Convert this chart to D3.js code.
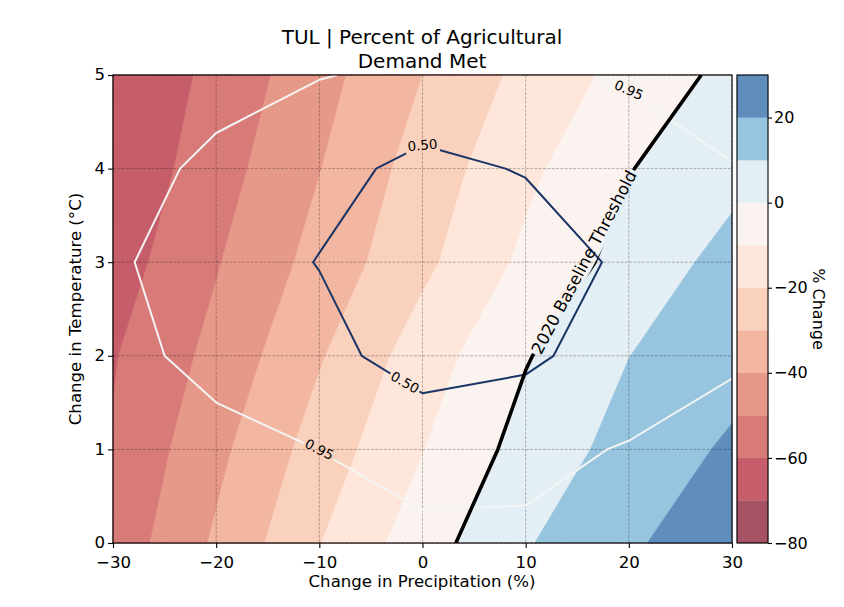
<!DOCTYPE html>
<html>
<head>
<meta charset="utf-8">
<script src="https://cdn.jsdelivr.net/npm/d3@7"></script>
<style>
body { margin: 0; background: #fff; }
text { font-family: "DejaVu Sans", sans-serif; fill: #000; }
</style>
</head>
<body>
<svg id="chart" width="844" height="607"></svg>
<script>
// grid axes
var precip = [-30, -20, -10, 0, 10, 20, 30];
var temps = [0, 1, 2, 3, 4, 5];

// % change, one row per temperature step (0 -> 5)
var pctChange = [
    [-56.4, -38.5, -20.3,  -4.4,   9.2,  18.4, 27.3],
    [-59.2, -42.5, -25.6, -10.3,   3.8,  13.7, 21.6],
    [-60.7, -47.1, -30.9, -15.0,  -0.7,   9.9, 15.9],
    [-64.8, -50.7, -36.5, -22.3,  -7.8,   3.8, 13.5],
    [-68.3, -54.2, -40.3, -25.7, -12.3,  -0.4,  6.9],
    [-69.5, -57.3, -43.5, -30.0, -17.2,  -6.6,  2.8]
];

// fraction of demand met, same grid
var demandMet = [
    [1.000, 1.000, 1.000, 1.000, 1.000, 1.000, 1.000],
    [1.000, 1.000, 0.949, 0.857, 0.875, 0.970, 1.000],
    [1.000, 0.900, 0.666, 0.262, 0.406, 0.754, 0.934],
    [1.000, 0.762, 0.483, 0.400, 0.230, 0.595, 0.850],
    [1.000, 0.923, 0.653, 0.375, 0.530, 0.714, 0.946],
    [1.000, 0.994, 0.966, 0.875, 0.857, 1.000, 1.000]
];

var levels = [-80, -70, -60, -50, -40, -30, -20, -10, 0, 10, 20, 30];
var cbTicks = [-80, -60, -40, -20, 0, 20];
var metLevels = [0.5, 0.95];
var baseline = 0;

var rdbu = ["#67001f", "#b2182b", "#d6604d", "#f4a582", "#fddbc7", "#f7f7f7",
            "#d1e5f0", "#92c5de", "#4393c3", "#2166ac", "#053061"];

var margin = {left: 113, right: 732, top: 75, bottom: 543};
var svg = d3.select("#chart");

var x = d3.scaleLinear().domain([-30, 30]).range([margin.left, margin.right]);
var y = d3.scaleLinear().domain([0, 5]).range([margin.bottom, margin.top]);

var cmap = d3.scaleLinear().domain(d3.range(11).map(function(i){ return i / 10; }))
    .range(rdbu).interpolate(d3.interpolateRgb);
var norm = d3.scaleLinear().domain([-80, 0, 30]).range([0, 0.5, 1]);
function bandColor(k){
    var mid = (levels[k] + levels[k + 1]) / 2;
    return d3.interpolateRgb("#ffffff", cmap(norm(mid)))(0.7);
}

var nx = precip.length, ny = temps.length;
var ix = d3.scaleLinear().domain([0, nx - 1]).range([precip[0], precip[nx - 1]]);
var iy = d3.scaleLinear().domain([0, ny - 1]).range([temps[0], temps[ny - 1]]);

function flat(rows){ return [].concat.apply([], rows); }

// d3 grid coords (values sit at i+0.5) -> screen
function toPx(p){
    var i = Math.max(0, Math.min(nx - 1, p[0] - 0.5));
    var j = Math.max(0, Math.min(ny - 1, p[1] - 0.5));
    return [x(ix(i)), y(iy(j)), i, j];
}

function areaPath(geom){
    var d = "";
    geom.coordinates.forEach(function(poly){
        poly.forEach(function(ring){
            d += "M" + ring.map(function(p){ var q = toPx(p); return q[0] + "," + q[1]; }).join("L") + "Z";
        });
    });
    return d;
}

// isoline only: drop the pieces that run along the grid border
function linePath(geom){
    var d = "";
    geom.coordinates.forEach(function(poly){
        poly.forEach(function(ring){
            var pts = ring.map(toPx), pen = false;
            for (var k = 0; k < pts.length - 1; k++){
                var a = pts[k], b = pts[k + 1];
                var edge = (a[2] == 0 && b[2] == 0) || (a[2] == nx - 1 && b[2] == nx - 1) ||
                           (a[3] == 0 && b[3] == 0) || (a[3] == ny - 1 && b[3] == ny - 1);
                if (edge){ pen = false; continue; }
                if (!pen){ d += "M" + a[0] + "," + a[1]; pen = true; }
                d += "L" + b[0] + "," + b[1];
            }
        });
    });
    return d;
}

var pctFlat = flat(pctChange);
var metFlat = flat(demandMet);

// filled bands
var bands = d3.contours().size([nx, ny]).thresholds(levels.slice(0, -1))(pctFlat);
svg.append("g").selectAll("path")
    .data(bands)
    .enter().append("path")
    .attr("d", areaPath)
    .attr("fill", function(d, k){ return bandColor(k); })
    .attr("fill-rule", "evenodd")
    .attr("stroke", function(d, k){ return bandColor(k); })
    .attr("stroke-width", 0.4);

// grid
var grid = svg.append("g").attr("stroke", "#000").attr("stroke-opacity", 0.35)
    .attr("stroke-width", 0.8).attr("stroke-dasharray", "3,1.3");
grid.selectAll("line.v").data(precip).enter().append("line")
    .attr("x1", function(d){ return x(d); }).attr("x2", function(d){ return x(d); })
    .attr("y1", margin.top).attr("y2", margin.bottom);
grid.selectAll("line.h").data(temps).enter().append("line")
    .attr("y1", function(d){ return y(d); }).attr("y2", function(d){ return y(d); })
    .attr("x1", margin.left).attr("x2", margin.right);

// contour labels (data position, angle on screen)
var labels = [
    {grp: "met", text: "0.50", v: 0, t: 4.25, rot: -5, size: 13.5, w: 34},
    {grp: "met", text: "0.50", v: -1.7, t: 1.715, rot: 30, size: 13.5, w: 34},
    {grp: "met", text: "0.95", v: -10, t: 1.0, rot: 27, size: 13.5, w: 34},
    {grp: "met", text: "0.95", v: 20, t: 4.84, rot: 24, size: 13.5, w: 34},
    {grp: "base", text: "2020 Baseline Threshold", v: 15.65, t: 3.0, rot: -62, size: 16.6, w: 209}
];

var defs = svg.append("defs");
["met", "base"].forEach(function(g){
    var mask = defs.append("mask").attr("id", "mask-" + g).attr("maskUnits", "userSpaceOnUse")
        .attr("x", 0).attr("y", 0).attr("width", 844).attr("height", 607);
    mask.append("rect").attr("width", 844).attr("height", 607).attr("fill", "#fff");
    mask.selectAll("rect.l").data(labels.filter(function(d){ return d.grp == g; }))
        .enter().append("rect")
        .attr("x", function(d){ return -d.w / 2; }).attr("y", function(d){ return -d.size * 0.6; })
        .attr("width", function(d){ return d.w; }).attr("height", function(d){ return d.size * 1.2; })
        .attr("fill", "#000")
        .attr("transform", function(d){ return "translate(" + x(d.v) + "," + y(d.t) + ") rotate(" + d.rot + ")"; });
});

defs.append("clipPath").attr("id", "plotclip").append("rect")
    .attr("x", margin.left).attr("y", margin.top)
    .attr("width", margin.right - margin.left).attr("height", margin.bottom - margin.top);

var lines = svg.append("g").attr("clip-path", "url(#plotclip)")
    .attr("fill", "none").attr("stroke-linejoin", "round").attr("stroke-linecap", "butt");

var metContours = d3.contours().size([nx, ny]).thresholds(metLevels)(metFlat);
var metLines = lines.append("g").attr("mask", "url(#mask-met)");
metLines.append("path").attr("d", linePath(metContours[1]))
    .attr("stroke", "#f4f4f4").attr("stroke-width", 2);
metLines.append("path").attr("d", linePath(metContours[0]))
    .attr("stroke", "#1b3466").attr("stroke-width", 2);

var baseContour = d3.contours().size([nx, ny]).thresholds([baseline])(pctFlat);
lines.append("g").attr("mask", "url(#mask-base)")
    .append("path").attr("d", linePath(baseContour[0]))
    .attr("stroke", "#000").attr("stroke-width", 3.6);

svg.append("g").selectAll("text").data(labels).enter().append("text")
    .attr("transform", function(d){ return "translate(" + x(d.v) + "," + y(d.t) + ") rotate(" + d.rot + ")"; })
    .attr("text-anchor", "middle").attr("dy", "0.35em")
    .style("font-size", function(d){ return d.size + "px"; })
    .text(function(d){ return d.text; });

// axes
var xAxis = svg.append("g").attr("transform", "translate(0," + margin.bottom + ")")
    .call(d3.axisBottom(x).tickValues(precip).tickFormat(d3.format("d"))
        .tickSize(5).tickPadding(8).tickSizeOuter(0));
var yAxis = svg.append("g").attr("transform", "translate(" + margin.left + ",0)")
    .call(d3.axisLeft(y).tickValues(temps).tickFormat(d3.format("d"))
        .tickSize(5).tickPadding(3).tickSizeOuter(0));
[xAxis, yAxis].forEach(function(a){
    a.selectAll("text").style("font-size", "16.6px").style("font-family", "DejaVu Sans, sans-serif");
    a.selectAll("line").attr("stroke", "#000").attr("stroke-width", 1.1);
    a.select(".domain").remove();
});
yAxis.selectAll("text").attr("dy", "0.3em");

svg.append("rect").attr("x", margin.left).attr("y", margin.top)
    .attr("width", margin.right - margin.left).attr("height", margin.bottom - margin.top)
    .attr("fill", "none").attr("stroke", "#000").attr("stroke-width", 1.1);

// colorbar
var cb = {left: 737, right: 768};
var cbY = d3.scaleLinear().domain([-80, 30]).range([margin.bottom, margin.top]);
svg.append("g").selectAll("rect").data(levels.slice(0, -1)).enter().append("rect")
    .attr("x", cb.left).attr("width", cb.right - cb.left)
    .attr("y", function(d, k){ return cbY(levels[k + 1]); })
    .attr("height", function(d, k){ return cbY(levels[k]) - cbY(levels[k + 1]); })
    .attr("fill", function(d, k){ return bandColor(k); })
    .attr("stroke", function(d, k){ return bandColor(k); }).attr("stroke-width", 0.4);
var cbAxis = svg.append("g").attr("transform", "translate(" + cb.right + ",0)")
    .call(d3.axisRight(cbY).tickValues(cbTicks).tickFormat(d3.format("d"))
        .tickSize(4).tickPadding(2).tickSizeOuter(0));
cbAxis.selectAll("text").style("font-size", "16px").style("font-family", "DejaVu Sans, sans-serif");
cbAxis.selectAll("line").attr("stroke", "#000").attr("stroke-width", 1.1);
cbAxis.select(".domain").remove();
svg.append("rect").attr("x", cb.left).attr("y", margin.top)
    .attr("width", cb.right - cb.left).attr("height", margin.bottom - margin.top)
    .attr("fill", "none").attr("stroke", "#000").attr("stroke-width", 1.1);

// titles and labels
svg.append("text").attr("x", 422).attr("y", 44).attr("text-anchor", "middle")
    .style("font-size", "20px").text("TUL | Percent of Agricultural");
svg.append("text").attr("x", 422).attr("y", 68).attr("text-anchor", "middle")
    .style("font-size", "20px").text("Demand Met");
svg.append("text").attr("x", 422).attr("y", 587).attr("text-anchor", "middle")
    .style("font-size", "16.6px").text("Change in Precipitation (%)");
svg.append("text").attr("transform", "translate(81,309) rotate(-90)").attr("text-anchor", "middle")
    .style("font-size", "16.6px").text("Change in Temperature (°C)");
svg.append("text").attr("transform", "translate(813,309) rotate(90)").attr("text-anchor", "middle")
    .style("font-size", "16px").text("% Change");
</script>
</body>
</html>
